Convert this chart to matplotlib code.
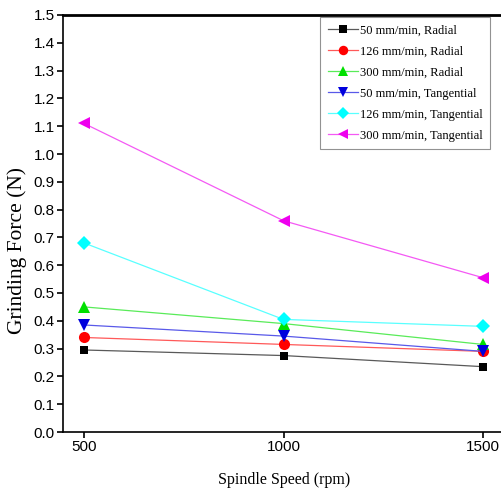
import matplotlib.pyplot as plt
from matplotlib.colors import to_rgb

speed = [500, 1000, 1500]

labels = [
    "50 mm/min, Radial",
    "126 mm/min, Radial",
    "300 mm/min, Radial",
    "50 mm/min, Tangential",
    "126 mm/min, Tangential",
    "300 mm/min, Tangential",
]
rad_50 = [0.295, 0.275, 0.235]
rad_126 = [0.34, 0.315, 0.29]
rad_300 = [0.45, 0.39, 0.315]
tan_50 = [0.385, 0.345, 0.29]
tan_126 = [0.68, 0.405, 0.38]
tan_300 = [1.11, 0.76, 0.555]

series = [rad_50, rad_126, rad_300, tan_50, tan_126, tan_300]
colors = ["black", "red", "#00e000", "#0000dd", "#00ffff", "#ee00ee"]
markers = ["s", "o", "^", "v", "D", "<"]
msizes = [6, 8, 8, 8, 7, 8]


def pale(c, f=0.35):
    r, g, b = to_rgb(c)
    return (r + (1 - r) * f, g + (1 - g) * f, b + (1 - b) * f)


def main():
    fig = plt.figure(figsize=(5.01, 4.95), dpi=100)
    W, H = 501, 495
    left, right, top, bottom = 63, 530, 15, 432
    ax = fig.add_axes([left / W, 1 - bottom / H, (right - left) / W, (bottom - top) / H])

    for vals, lab, c, m, ms in zip(series, labels, colors, markers, msizes):
        ax.plot(speed, vals, color=pale(c), lw=0.9, marker=m, markersize=ms,
                markerfacecolor=c, markeredgewidth=0, label=lab)

    px_per = 199.5 / 500
    ax.set_xlim(500 - (84 - left) / px_per, 500 + (right - 84) / px_per)
    ax.set_ylim(0, 1.5)
    ax.set_xticks(speed)
    ax.set_yticks([i / 10 for i in range(16)])
    ax.set_yticklabels([f"{i / 10:.1f}" for i in range(16)])

    for t in ax.get_xticklabels() + ax.get_yticklabels():
        t.set_family("Liberation Sans")
        t.set_fontsize(11)
    ax.tick_params(direction="out", length=4, width=1.2, pad=2)
    ax.spines["top"].set_linewidth(2)
    ax.spines["left"].set_linewidth(1.2)
    ax.spines["bottom"].set_linewidth(1.2)
    ax.spines["right"].set_visible(False)

    ax.set_xlabel("Spindle Speed (rpm)", family="Liberation Serif", fontsize=11.5)
    ax.set_ylabel("Grinding Force (N)", family="Liberation Serif", fontsize=15.5)
    ax.xaxis.set_label_coords((284 - left) / (right - left), -(472 - bottom) / (bottom - top))
    ax.yaxis.set_label_coords(-(left - 27) / (right - left), (bottom - 250) / (bottom - top))

    leg = ax.legend(loc="upper left", bbox_to_anchor=((320 - left) / (right - left), 0.995),
                    prop={"family": "Liberation Serif", "size": 9.0},
                    frameon=True, fancybox=False, edgecolor="#777777",
                    handlelength=2.4, handletextpad=0.2, labelspacing=0.72,
                    borderpad=0.6, borderaxespad=0, markerscale=0.85)
    leg.get_frame().set_linewidth(0.8)

    fig.savefig("out.png", dpi=100)


if __name__ == "__main__":
    main()
